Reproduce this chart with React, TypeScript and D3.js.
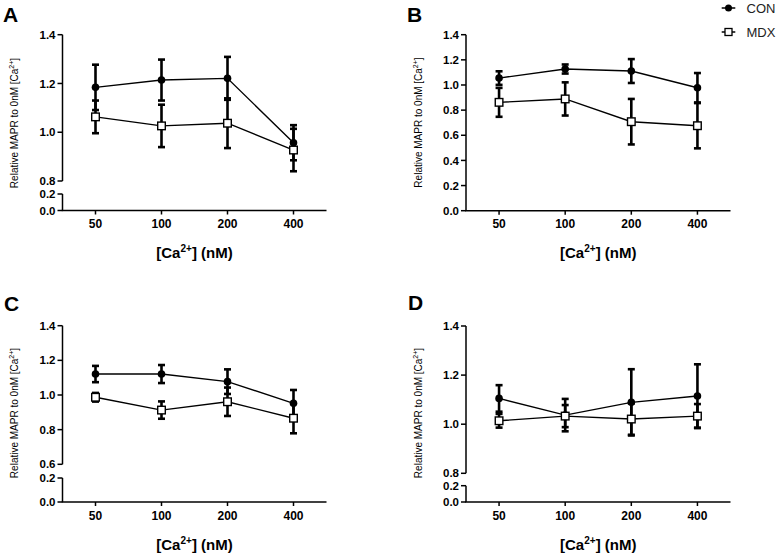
import React from "react";
import * as d3 from "d3";

const categories = ["50", "100", "200", "400"];

const conA = [1.184, 1.214, 1.221, 0.957];
const conAErr = [0.093, 0.084, 0.088, 0.072];
const mdxA = [1.063, 1.026, 1.037, 0.927];
const mdxAErr = [0.067, 0.087, 0.102, 0.087];

const conB = [1.055, 1.127, 1.111, 0.978];
const conBErr = [0.054, 0.036, 0.095, 0.117];
const mdxB = [0.862, 0.889, 0.708, 0.676];
const mdxBErr = [0.115, 0.132, 0.181, 0.18];

const conC = [1.121, 1.121, 1.077, 0.952];
const conCErr = [0.047, 0.052, 0.071, 0.077];
const mdxC = [0.987, 0.913, 0.961, 0.866];
const mdxCErr = [0.025, 0.05, 0.082, 0.087];

const conD = [1.105, 1.037, 1.089, 1.115];
const conDErr = [0.054, 0.066, 0.135, 0.129];
const mdxD = [1.014, 1.033, 1.021, 1.033];
const mdxDErr = [0.028, 0.045, 0.064, 0.049];

const ticksUpperA = [0.8, 1.0, 1.2, 1.4];
const ticksLower = [0.0, 0.2];
const ticksB = [0.0, 0.2, 0.4, 0.6, 0.8, 1.0, 1.2, 1.4];
const ticksUpperC = [0.6, 0.8, 1.0, 1.2, 1.4];

const seriesNames = ["CON", "MDX"];

const FONT = "'Liberation Sans', Arial, Helvetica, sans-serif";

type PanelCfg = {
  label: string;
  lx: number;
  ly: number;
  x0: number;
  x1: number;
  yTop: number;
  yBreakUp?: number;
  yBreakLow?: number;
  yZero: number;
  upperDomain: [number, number];
  upperTicks: number[];
  lowerTicks?: number[];
  con: number[];
  conErr: number[];
  mdx: number[];
  mdxErr: number[];
  titleX: number;
  titleY: number;
};

const panels: PanelCfg[] = [
  {
    label: "A", lx: 3, ly: 22, x0: 62.5, x1: 326.5, yTop: 34.7, yBreakUp: 181, yBreakLow: 194, yZero: 210.5,
    upperDomain: [0.8, 1.4], upperTicks: ticksUpperA, lowerTicks: ticksLower,
    con: conA, conErr: conAErr, mdx: mdxA, mdxErr: mdxAErr, titleX: 14, titleY: 123,
  },
  {
    label: "B", lx: 407, ly: 22, x0: 466, x1: 730.5, yTop: 34.7, yZero: 210.7,
    upperDomain: [0, 1.4], upperTicks: ticksB,
    con: conB, conErr: conBErr, mdx: mdxB, mdxErr: mdxBErr, titleX: 418.5, titleY: 122.5,
  },
  {
    label: "C", lx: 4, ly: 311, x0: 62.5, x1: 326.5, yTop: 325.7, yBreakUp: 464.3, yBreakLow: 478, yZero: 502,
    upperDomain: [0.6, 1.4], upperTicks: ticksUpperC, lowerTicks: ticksLower,
    con: conC, conErr: conCErr, mdx: mdxC, mdxErr: mdxCErr, titleX: 14, titleY: 413,
  },
  {
    label: "D", lx: 408, ly: 310, x0: 466, x1: 730.5, yTop: 326, yBreakUp: 473.3, yBreakLow: 485.7, yZero: 502,
    upperDomain: [0.8, 1.4], upperTicks: ticksUpperA, lowerTicks: ticksLower,
    con: conD, conErr: conDErr, mdx: mdxD, mdxErr: mdxDErr, titleX: 418.5, titleY: 413,
  },
];

function Panel({ p }: { p: PanelCfg }) {
  const x = d3.scalePoint<string>().domain(categories).range([p.x0, p.x1]).padding(0.5);
  const broken = p.yBreakUp !== undefined;
  const yUpper = d3
    .scaleLinear()
    .domain(p.upperDomain)
    .range([broken ? (p.yBreakUp as number) : p.yZero, p.yTop]);
  const yLower = d3
    .scaleLinear()
    .domain([0, 0.2])
    .range([p.yZero, broken ? (p.yBreakLow as number) : p.yZero]);
  const y = (v: number) => (broken && v < p.upperDomain[0] ? yLower(v) : yUpper(v));

  const line = d3
    .line<number>()
    .x((_, i) => x(categories[i]) as number)
    .y((d) => y(d));

  const fmt = d3.format(".1f");
  const capW = 3.5;

  const errBars = (vals: number[], errs: number[]) =>
    vals.map((v, i) => {
      const cx = x(categories[i]) as number;
      const yt = y(v + errs[i]);
      const yb = y(v - errs[i]);
      return (
        <g key={i} stroke="#000" strokeWidth={2.6}>
          <line x1={cx} x2={cx} y1={yt} y2={yb} />
          <line x1={cx - capW} x2={cx + capW} y1={yt} y2={yt} />
          <line x1={cx - capW} x2={cx + capW} y1={yb} y2={yb} />
        </g>
      );
    });

  const axisMid = (p.x0 + p.x1) / 2;

  return (
    <g fontFamily={FONT}>
      <text x={p.lx} y={p.ly} fontSize={21} fontWeight="bold">
        {p.label}
      </text>
      {/* y axis */}
      <g stroke="#000" strokeWidth={1.5}>
        <line x1={p.x0} x2={p.x0} y1={p.yTop} y2={broken ? (p.yBreakUp as number) : p.yZero} />
        {broken && <line x1={p.x0} x2={p.x0} y1={p.yBreakLow as number} y2={p.yZero} />}
        {p.upperTicks.map((t) => (
          <line key={"u" + t} x1={p.x0 - 5} x2={p.x0} y1={yUpper(t)} y2={yUpper(t)} />
        ))}
        {broken &&
          (p.lowerTicks as number[]).map((t) => (
            <line key={"l" + t} x1={p.x0 - 5} x2={p.x0} y1={yLower(t)} y2={yLower(t)} />
          ))}
        {/* x axis */}
        <line x1={p.x0 - 0.75} x2={p.x1} y1={p.yZero} y2={p.yZero} />
        {categories.map((c) => (
          <line key={c} x1={x(c) as number} x2={x(c) as number} y1={p.yZero} y2={p.yZero + 4} />
        ))}
      </g>
      <g fontSize={11.5} fontWeight="bold" textAnchor="end">
        {p.upperTicks.map((t) => (
          <text key={"u" + t} x={p.x0 - 7} y={yUpper(t)} dy="0.36em">
            {fmt(t)}
          </text>
        ))}
        {broken &&
          (p.lowerTicks as number[]).map((t) => (
            <text key={"l" + t} x={p.x0 - 7} y={yLower(t)} dy="0.36em">
              {fmt(t)}
            </text>
          ))}
      </g>
      <g fontSize={12} fontWeight="bold" textAnchor="middle">
        {categories.map((c) => (
          <text key={c} x={x(c) as number} y={p.yZero + 17.7}>
            {c}
          </text>
        ))}
      </g>
      <text x={axisMid} y={p.yZero + 47.5} fontSize={15} fontWeight="bold" textAnchor="middle">
        [Ca
        <tspan dy={-6} fontSize={10}>
          2+
        </tspan>
        <tspan dy={6}>] (nM)</tspan>
      </text>
      <text
        transform={`translate(${p.titleX},${p.titleY}) rotate(-90)`}
        fontSize={10}
        textAnchor="middle"
        dy="0.35em"
      >
        Relative MAPR to 0nM [Ca
        <tspan dy={-4} fontSize={7}>
          2+
        </tspan>
        <tspan dy={4}>]</tspan>
      </text>
      {/* CON */}
      <path d={line(p.con) as string} fill="none" stroke="#000" strokeWidth={1.4} />
      {errBars(p.con, p.conErr)}
      {p.con.map((v, i) => (
        <circle key={i} cx={x(categories[i]) as number} cy={y(v)} r={3.8} fill="#000" />
      ))}
      {/* MDX */}
      <path d={line(p.mdx) as string} fill="none" stroke="#000" strokeWidth={1.4} />
      {errBars(p.mdx, p.mdxErr)}
      {p.mdx.map((v, i) => (
        <rect
          key={i}
          x={(x(categories[i]) as number) - 3.8}
          y={y(v) - 3.8}
          width={7.6}
          height={7.6}
          fill="#fff"
          stroke="#000"
          strokeWidth={1.4}
        />
      ))}
    </g>
  );
}

function Legend() {
  const lx0 = 721.7;
  const lx1 = 735.3;
  const cx = 728.5;
  const ys = [8, 32];
  return (
    <g fontFamily={FONT}>
      {seriesNames.map((name, i) => (
        <g key={name}>
          <line x1={lx0} x2={lx1} y1={ys[i]} y2={ys[i]} stroke="#000" strokeWidth={1.5} />
          {i === 0 ? (
            <circle cx={cx} cy={ys[i]} r={3.5} fill="#000" />
          ) : (
            <rect x={cx - 3.5} y={ys[i] - 3.5} width={7} height={7} fill="#fff" stroke="#000" strokeWidth={1.3} />
          )}
          <text x={746.5} y={ys[i]} dy="0.36em" fontSize={13} fill="#222">
            {name}
          </text>
        </g>
      ))}
    </g>
  );
}

export default function App() {
  return (
    <svg
      width={780}
      height={556}
      style={{ position: "absolute", left: 0, top: 0, display: "block", background: "#fff" }}
    >
      <rect x={0} y={0} width={780} height={556} fill="#fff" />
      {panels.map((p) => (
        <Panel key={p.label} p={p} />
      ))}
      <Legend />
    </svg>
  );
}
